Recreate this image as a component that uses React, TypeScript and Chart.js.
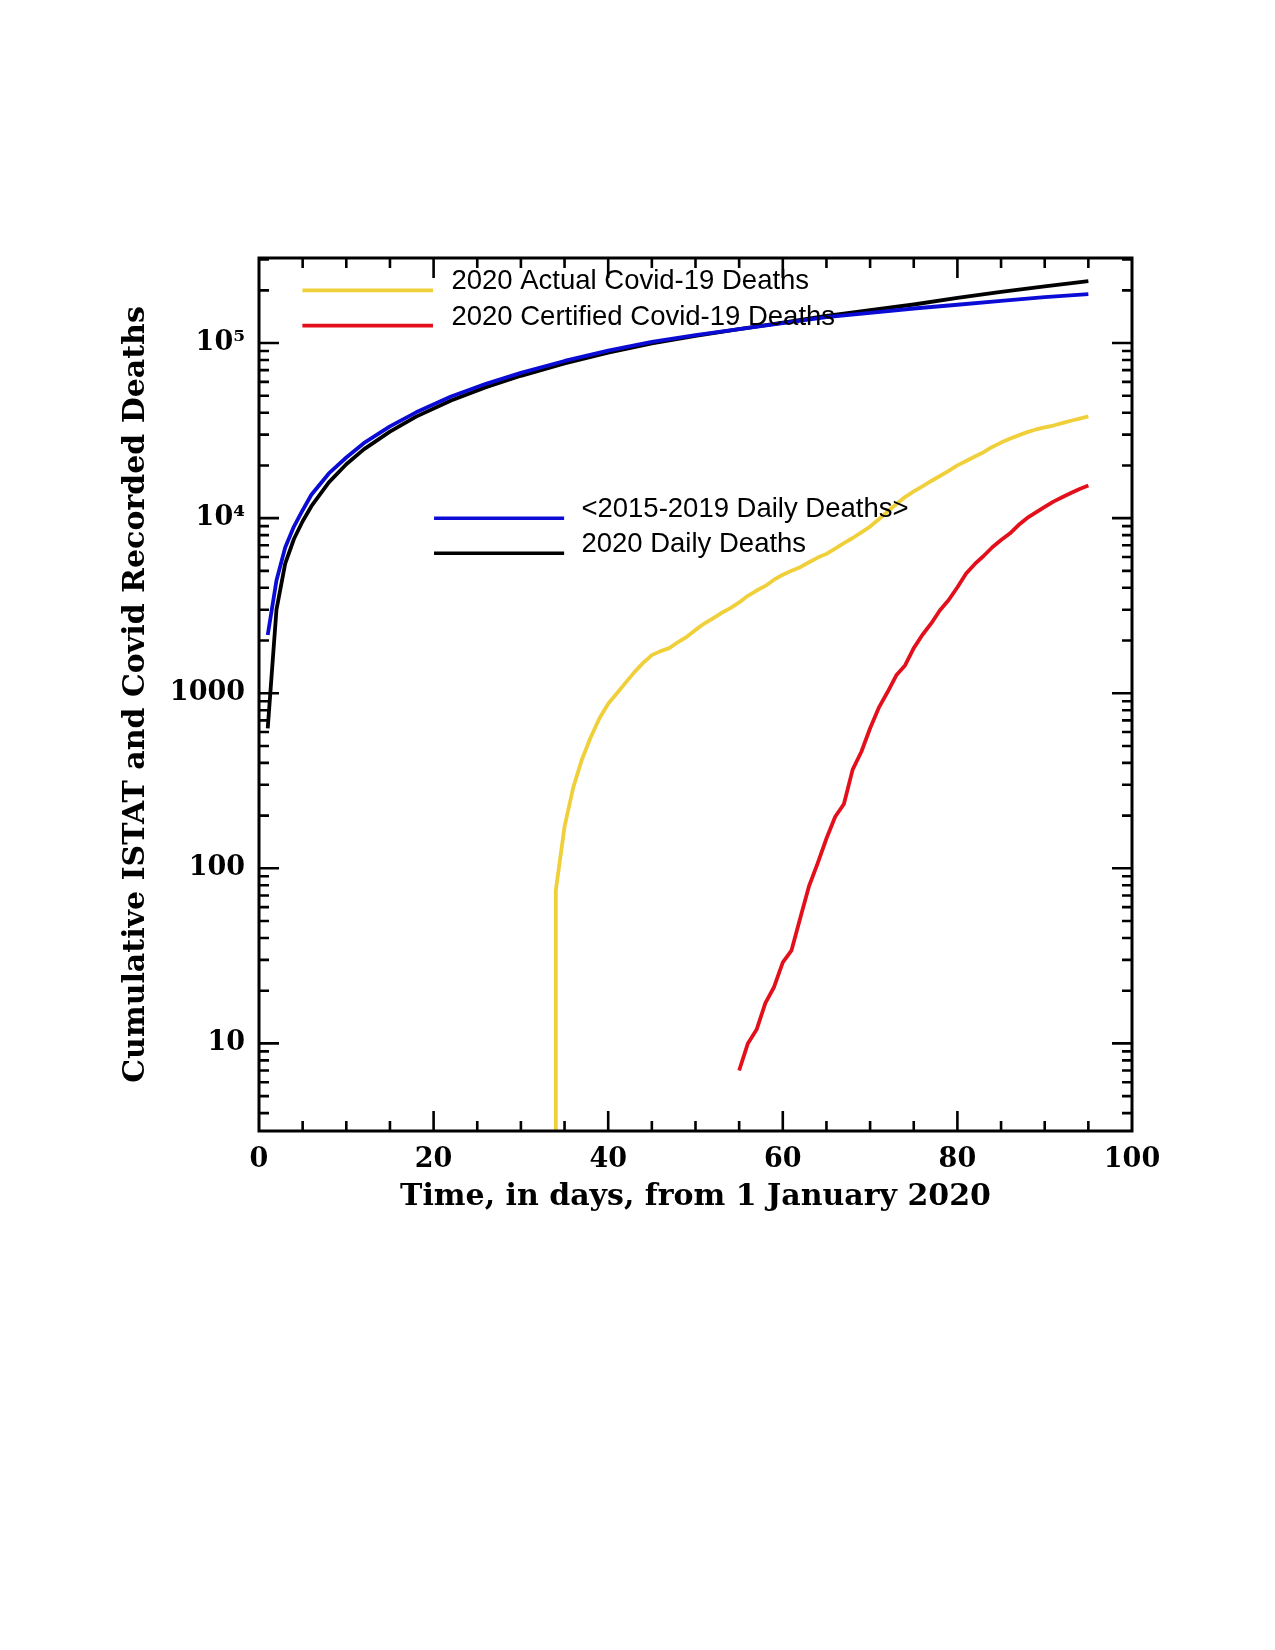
import React, { useEffect, useRef } from "react";
import { Chart, registerables } from "chart.js";

Chart.register(...registerables);

// ---- axis text ----
const xTitle = "Time, in days, from 1 January 2020";
const yTitle = "Cumulative ISTAT and Covid Recorded Deaths";
const xTickValues = [0, 20, 40, 60, 80, 100];
const yTickValues = [10, 100, 1000, 10000, 100000];
const yTickLabels = ["10", "100", "1000", "10⁴", "10⁵"];

// ---- series labels ----
const labelActual = "2020 Actual Covid-19 Deaths";
const labelCertified = "2020 Certified Covid-19 Deaths";
const labelBaseline = "<2015-2019 Daily Deaths>";
const label2020 = "2020 Daily Deaths";

// ---- <2015-2019> cumulative daily deaths ----
const baselineDays = [1, 2, 3, 4, 5, 6, 8, 10, 12, 15, 18, 22, 26, 30, 35, 40, 45, 50, 55, 60, 65, 70, 75, 80, 85, 90, 95];
const baselineDeaths = [2150, 4400, 6800, 8950, 11100, 13600, 18000, 22200, 26800, 33400, 40200, 49500, 58500, 67500, 79000, 90500, 101500, 111000, 120000, 130000, 140500, 148500, 157500, 165500, 174000, 183000, 190500];

// ---- 2020 cumulative daily deaths ----
const deaths2020Days = [1, 2, 3, 4, 5, 6, 8, 10, 12, 15, 18, 22, 26, 30, 35, 40, 45, 50, 55, 60, 65, 70, 75, 80, 85, 90, 95];
const deaths2020 = [630, 3000, 5500, 7600, 9600, 11700, 16000, 20300, 24700, 31200, 38000, 47000, 56000, 65000, 76500, 88000, 99500, 110000, 120000, 131000, 143000, 154000, 166000, 181000, 196000, 211000, 225500];

// ---- 2020 actual Covid-19 deaths ----
const actualDays = [34, 34, 35, 36, 37, 38, 39, 40, 41, 42, 43, 44, 45, 46, 47, 48, 49, 50, 51, 52, 53, 54, 55, 56, 57, 58, 59, 60, 61, 62, 63, 64, 65, 66, 67, 68, 69, 70, 71, 72, 73, 74, 75, 76, 77, 78, 79, 80, 81, 82, 83, 84, 85, 86, 87, 88, 89, 90, 91, 92, 93, 94, 95];
const actualDeaths = [1, 75, 173, 290, 420, 560, 720, 870, 1000, 1150, 1320, 1490, 1650, 1740, 1810, 1960, 2100, 2300, 2500, 2680, 2880, 3060, 3300, 3600, 3860, 4100, 4450, 4750, 5000, 5250, 5600, 5950, 6250, 6700, 7200, 7700, 8300, 8950, 9850, 10900, 12000, 13200, 14200, 15200, 16300, 17400, 18600, 20000, 21200, 22500, 23800, 25500, 27000, 28400, 29700, 31000, 32100, 33000, 33800, 34900, 36000, 37000, 38100];

// ---- 2020 certified Covid-19 deaths ----
const certifiedDays = [55, 56, 57, 58, 59, 60, 61, 62, 63, 64, 65, 66, 67, 68, 69, 70, 71, 72, 73, 74, 75, 76, 77, 78, 79, 80, 81, 82, 83, 84, 85, 86, 87, 88, 89, 90, 91, 92, 93, 94, 95];
const certifiedDeaths = [7, 10, 12, 17, 21, 29, 34, 52, 79, 107, 148, 197, 233, 366, 463, 631, 827, 1016, 1266, 1441, 1809, 2158, 2503, 2978, 3405, 4032, 4825, 5476, 6077, 6820, 7503, 8165, 9134, 10023, 10779, 11591, 12428, 13155, 13915, 14681, 15362];

const colors = {
  actual: "#F0D03A",
  certified: "#E3101B",
  baseline: "#0B0BD6",
  y2020: "#000000",
};

const serif = '"DejaVu Serif", "Liberation Serif", serif';
const sans = '"Liberation Sans", Arial, Helvetica, sans-serif';

const toPoints = (xs: number[], ys: number[]) => xs.map((x, i) => ({ x, y: ys[i] }));

const frameAndLegend = {
  id: "frameAndLegend",
  afterDatasetsDraw(chart: any) {
    const { ctx, chartArea: ca, scales } = chart;
    const xs = scales.x;
    const ys = scales.y;
    ctx.save();
    ctx.strokeStyle = "#000";
    ctx.lineWidth = 2.6;
    ctx.lineCap = "butt";
    ctx.beginPath();
    // x ticks every 5, long every 20
    for (let v = 5; v < 100; v += 5) {
      const px = xs.getPixelForValue(v);
      const len = v % 20 === 0 ? 20 : 10;
      ctx.moveTo(px, ca.bottom);
      ctx.lineTo(px, ca.bottom - len);
      ctx.moveTo(px, ca.top);
      ctx.lineTo(px, ca.top + len);
    }
    // log y ticks
    for (let e = 0; e <= 5; e++) {
      for (let m = 1; m <= 9; m++) {
        const v = m * Math.pow(10, e);
        if (v <= ys.min || v >= ys.max * 0.99) continue;
        const py = ys.getPixelForValue(v);
        const len = m === 1 ? 20 : 10;
        ctx.moveTo(ca.left, py);
        ctx.lineTo(ca.left + len, py);
        ctx.moveTo(ca.right, py);
        ctx.lineTo(ca.right - len, py);
      }
    }
    ctx.stroke();
    ctx.lineWidth = 3;
    ctx.strokeRect(ca.left, ca.top, ca.right - ca.left, ca.bottom - ca.top);

    // in-plot legends
    const w = ca.right - ca.left;
    const groups = [
      { items: [2, 3], x0: ca.left + 0.0497 * w, x1: ca.left + 0.1993 * w, tx: ca.left + 0.2204 * w, y0: ca.top + 32.4, dy: 35.2 },
      { items: [0, 1], x0: ca.left + 0.2005 * w, x1: ca.left + 0.3495 * w, tx: ca.left + 0.3693 * w, y0: ca.top + 260.3, dy: 35 },
    ];
    ctx.font = "27.5px " + sans;
    ctx.textBaseline = "middle";
    ctx.textAlign = "left";
    ctx.fillStyle = "#000";
    for (const g of groups) {
      g.items.forEach((di, k) => {
        const ds = chart.data.datasets[di];
        const y = g.y0 + k * g.dy;
        ctx.strokeStyle = ds.borderColor;
        ctx.lineWidth = 3.6;
        ctx.beginPath();
        ctx.moveTo(g.x0, y);
        ctx.lineTo(g.x1, y);
        ctx.stroke();
        ctx.fillText(ds.label, g.tx, y - 8.5);
      });
    }
    ctx.restore();
  },
};

export default function App() {
  const canvasRef = useRef<HTMLCanvasElement | null>(null);

  useEffect(() => {
    if (!canvasRef.current) return;
    const lineDs = (label: string, data: any[], color: string) => ({
      label,
      data,
      borderColor: color,
      backgroundColor: color,
      borderWidth: 3.8,
      pointRadius: 0,
      showLine: true,
      tension: 0,
      borderJoinStyle: "round" as const,
      fill: false,
    });
    const chart = new Chart(canvasRef.current, {
      type: "scatter",
      data: {
        datasets: [
          lineDs(labelBaseline, toPoints(baselineDays, baselineDeaths), colors.baseline),
          lineDs(label2020, toPoints(deaths2020Days, deaths2020), colors.y2020),
          lineDs(labelActual, toPoints(actualDays, actualDeaths), colors.actual),
          lineDs(labelCertified, toPoints(certifiedDays, certifiedDeaths), colors.certified),
        ],
      },
      options: {
        animation: false,
        responsive: false,
        devicePixelRatio: 1,
        layout: { padding: { left: 0, top: 258, right: 143, bottom: 419 } },
        plugins: { legend: { display: false }, tooltip: { enabled: false }, title: { display: false } },
        scales: {
          x: {
            type: "linear",
            min: 0,
            max: 100,
            afterBuildTicks: (s: any) => {
              s.ticks = xTickValues.map((v) => ({ value: v }));
            },
            afterFit: (s: any) => {
              s.height = 100;
            },
            grid: { display: false, drawTicks: false },
            border: { display: false },
            ticks: {
              autoSkip: false,
              maxRotation: 0,
              padding: 13,
              color: "#000",
              font: { family: serif, size: 27, weight: "bold" },
              callback: (v: any) => String(v),
            },
            title: {
              display: true,
              text: xTitle,
              color: "#000",
              font: { family: serif, size: 30, weight: "bold" },
              padding: { top: 0, bottom: 16 },
            },
          },
          y: {
            type: "logarithmic",
            min: 3.16,
            max: 306000,
            afterBuildTicks: (s: any) => {
              s.ticks = yTickValues.map((v) => ({ value: v }));
            },
            afterFit: (s: any) => {
              s.width = 259;
            },
            grid: { display: false, drawTicks: false },
            border: { display: false },
            ticks: {
              autoSkip: false,
              padding: 14,
              color: "#000",
              font: { family: serif, size: 27, weight: "bold" },
              callback: (v: any) => {
                const i = yTickValues.indexOf(Number(v));
                return i >= 0 ? yTickLabels[i] : "";
              },
            },
            title: {
              display: true,
              text: yTitle,
              color: "#000",
              font: { family: serif, size: 30, weight: "bold" },
              padding: { top: 118, bottom: 0 },
            },
          },
        },
      },
      plugins: [frameAndLegend],
    } as any);
    return () => chart.destroy();
  }, []);

  return (
    <div style={{ position: "absolute", left: 0, top: 0, width: 1275, height: 1650, background: "#fff" }}>
      <canvas ref={canvasRef} width={1275} height={1650} style={{ width: 1275, height: 1650, display: "block" }} />
    </div>
  );
}
